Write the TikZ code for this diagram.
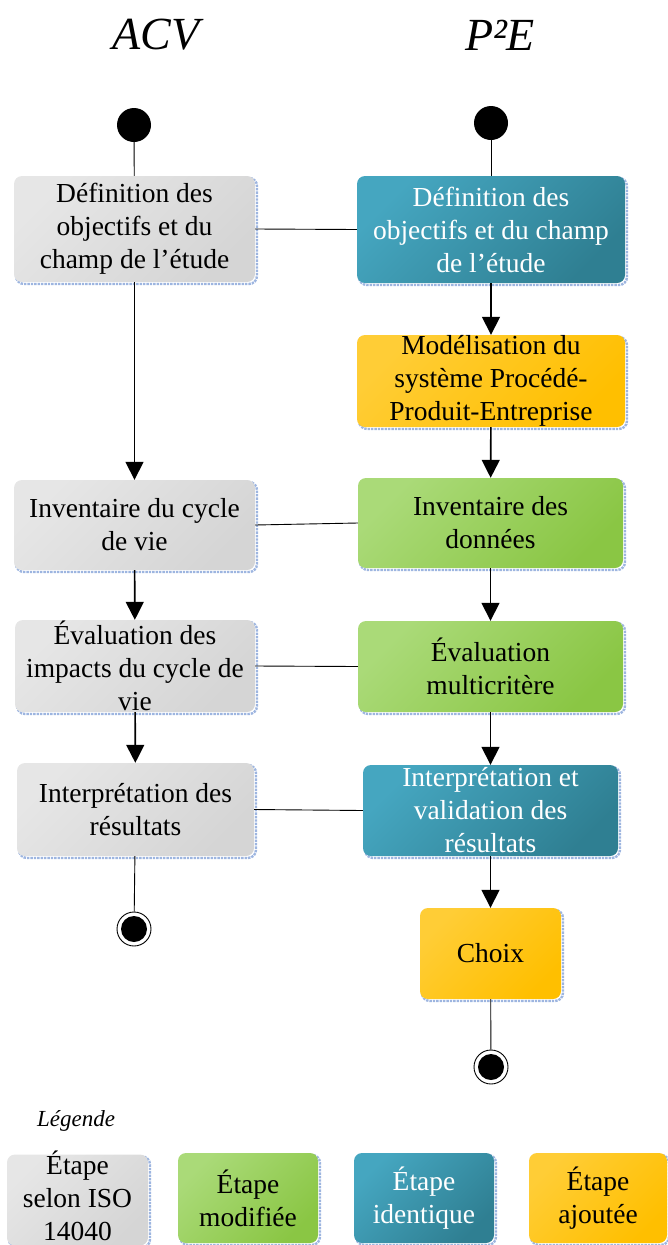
\documentclass[tikz,border=0pt]{standalone}
\usepackage{fontspec}
\setmainfont{Liberation Serif}
\usetikzlibrary{arrows.meta}
\definecolor{grayA}{HTML}{E6E6E6}
\definecolor{grayB}{HTML}{D5D5D5}
\definecolor{tealA}{HTML}{45A6C0}
\definecolor{tealB}{HTML}{2F7F92}
\definecolor{greenA}{HTML}{AADA78}
\definecolor{greenB}{HTML}{8AC644}
\definecolor{yelA}{HTML}{FFCD36}
\definecolor{yelB}{HTML}{FFBF00}
\definecolor{shadowblue}{HTML}{9DB5E0}
\tikzset{
  boxbase/.style={rectangle, rounded corners=8pt, inner sep=0pt,
    preaction={draw=shadowblue, densely dotted, line width=2.4pt,
      transform canvas={shift={(2pt,-2pt)}}}},
  isobox/.style={boxbase, top color=grayA, bottom color=grayB, shading angle=45},
  idbox/.style={boxbase, top color=tealA, bottom color=tealB, shading angle=45},
  modbox/.style={boxbase, top color=greenA, bottom color=greenB, shading angle=45},
  addbox/.style={boxbase, top color=yelA, bottom color=yelB, shading angle=45},
  txt/.style={align=center, inner sep=0pt, font=\fontsize{27.5}{33}\selectfont},
  wtxt/.style={txt, text=white},
  startdot/.style={circle, fill=black, minimum size=34pt, inner sep=0pt},
  enddot/.style={circle, draw=black, line width=0.9pt, fill=white, minimum size=34pt, inner sep=0pt,
    path picture={\fill[black] (path picture bounding box.center) circle (13pt);}},
  flow/.style={line width=1.6pt, -{Triangle[width=18pt,length=18pt]}},
  link/.style={line width=0.9pt},
  title/.style={font=\fontsize{46}{50}\selectfont\itshape}
}
\begin{document}
\begin{tikzpicture}[x=1pt,y=-1pt]
\useasboundingbox (0,0) rectangle (668,1245);
% titles
\node[title] (tacv) at (156,35) {ACV};
\node[title] (tpe) at (500,35) {P²E};
% ACV column
\node[startdot] (ls) at (134,125) {};
\node[isobox, minimum width=241pt, minimum height=106pt] (l1) at (134.5,229) {};
\node[txt] (l1t) at (l1.center) {Définition des\\objectifs et du\\champ de l’étude};
\node[isobox, minimum width=241pt, minimum height=90pt] (l2) at (134.5,525) {};
\node[txt] (l2t) at (l2.center) {Inventaire du cycle\\de vie};
\node[isobox, minimum width=240pt, minimum height=92pt] (l3) at (135,666) {};
\node[txt] (l3t) at (l3.center) {Évaluation des\\impacts du cycle de\\vie};
\node[isobox, minimum width=237pt, minimum height=93pt] (l4) at (135.5,809.5) {};
\node[txt] (l4t) at (l4.center) {Interprétation des\\résultats};
\node[enddot] (le) at (134,929) {};
% P2E column
\node[startdot] (rs) at (491,123) {};
\node[idbox, minimum width=268pt, minimum height=107pt] (r1) at (491,229.5) {};
\node[wtxt] (r1t) at (r1.center) {Définition des\\objectifs et du champ\\de l’étude};
\node[addbox, minimum width=268pt, minimum height=92pt] (r2) at (491,381) {};
\node[txt] (r2t) at (r2.center) {Modélisation du\\système Procédé-\\Produit-Entreprise};
\node[modbox, minimum width=265pt, minimum height=90pt] (r3) at (490.5,523) {};
\node[txt] (r3t) at (r3.center) {Inventaire des\\données};
\node[modbox, minimum width=265pt, minimum height=91pt] (r4) at (490.5,666.5) {};
\node[txt] (r4t) at (r4.center) {Évaluation\\multicritère};
\node[idbox, minimum width=255pt, minimum height=91pt] (r5) at (490.5,810.5) {};
\node[wtxt] (r5t) at (r5.center) {Interprétation et\\validation des\\résultats};
\node[addbox, minimum width=141pt, minimum height=91pt] (r6) at (490.5,953.5) {};
\node[txt] (r6t) at (r6.center) {Choix};
\node[enddot] (re) at (491,1067) {};
% connectors ACV
\draw[link] (ls) -- (l1);
\draw[flow] (l1) -- (l2);
\draw[flow] (l2) -- (l3);
\draw[flow] (l3) -- (l4);
\draw[link] (l4) -- (le);
% connectors P2E
\draw[link] (rs) -- (r1);
\draw[flow] (r1) -- (r2);
\draw[flow] (r2) -- (r3);
\draw[flow] (r3) -- (r4);
\draw[flow] (r4) -- (r5);
\draw[flow] (r5) -- (r6);
\draw[link] (r6) -- (re);
% cross links
\draw[link] (l1.east) -- (r1.west);
\draw[link] (l2.east) -- (r3.west);
\draw[link] (l3.east) -- (r4.west);
\draw[link] (l4.east) -- (r5.west);
% legend
\node[font=\fontsize{23}{26}\selectfont\itshape] (leg) at (76,1121) {Légende};
\node[isobox, minimum width=141pt, minimum height=91pt] (g1) at (77.5,1200) {};
\node[txt] (g1t) at ([yshift=4pt]g1.center) {Étape\\selon ISO\\14040};
\node[modbox, minimum width=140pt, minimum height=90pt] (g2) at (248,1198) {};
\node[txt] (g2t) at (g2.center) {Étape\\modifiée};
\node[idbox, minimum width=140pt, minimum height=90pt] (g3) at (424,1198) {};
\node[wtxt] (g3t) at (g3.center) {Étape\\identique};
\node[addbox, minimum width=138pt, minimum height=90pt] (g4) at (598,1198) {};
\node[txt] (g4t) at (g4.center) {Étape\\ajoutée};
\end{tikzpicture}
\end{document}
